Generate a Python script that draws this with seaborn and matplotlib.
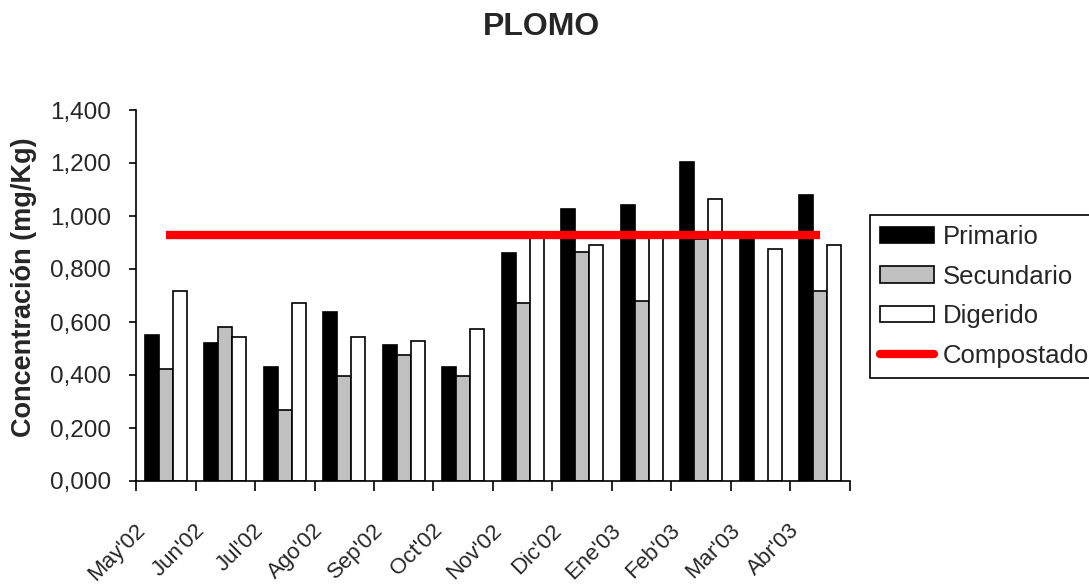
import numpy as np
import pandas as pd
import matplotlib
matplotlib.use("Agg")
import matplotlib.pyplot as plt
import seaborn as sns
from matplotlib.patches import Patch
from matplotlib.lines import Line2D
from matplotlib.ticker import FixedLocator, FuncFormatter

months = ["May'02", "Jun'02", "Jul'02", "Ago'02", "Sep'02", "Oct'02",
          "Nov'02", "Dic'02", "Ene'03", "Feb'03", "Mar'03", "Abr'03"]
primario = [0.551, 0.521, 0.430, 0.636, 0.513, 0.430, 0.861, 1.028, 1.043, 1.203, 0.925, 1.081]
secundario = [0.421, 0.580, 0.269, 0.398, 0.474, 0.398, 0.671, 0.866, 0.678, 0.912, np.nan, 0.716]
digerido = [0.716, 0.542, 0.672, 0.542, 0.528, 0.572, 0.925, 0.890, 0.925, 1.064, 0.875, 0.890]
compostado = [0.930, 0.930, 0.930, 0.930, 0.930, 0.930, 0.930, 0.930, 0.930, 0.930, 0.930, 0.930]
series_names = ["Primario", "Secundario", "Digerido"]
yticks = [0.0, 0.2, 0.4, 0.6, 0.8, 1.0, 1.2, 1.4]

sns.set_theme(style="white")
plt.rcParams['font.family'] = ['Liberation Sans', 'DejaVu Sans']

df = pd.DataFrame({
    "mes": months * 3,
    "serie": [s for s in series_names for _ in months],
    "valor": primario + secundario + digerido,
})

fig = plt.figure(figsize=(10.89, 5.84), dpi=100)
ax = fig.add_axes([136/1089, 1-481/584, (850-136)/1089, (481-110)/584])

colors = ["#000000", "#C0C0C0", "#FFFFFF"]
sns.barplot(data=df, x="mes", y="valor", hue="serie", order=months,
            hue_order=series_names, palette=colors, edgecolor="black",
            linewidth=1.2, width=0.7, errorbar=None, ax=ax, legend=False)

ax.plot(range(len(months)), compostado, color="#FF0000", linewidth=6,
        solid_capstyle="butt", zorder=5)

ax.set_xlim(-0.5, len(months) - 0.5)
ax.set_ylim(0, 1.4)
ax.set_xlabel("")
ax.set_ylabel("")

# y axis
ax.set_yticks(yticks)
ax.yaxis.set_major_formatter(FuncFormatter(lambda v, p: f"{v:.3f}".replace(".", ",")))
ax.tick_params(axis="y", direction="out", length=5, width=1.2, color="black",
               labelsize=17.5, pad=13, left=True)

# x axis: ticks at category boundaries, labels offset
ax.xaxis.set_minor_locator(FixedLocator(np.arange(-0.5, len(months), 1.0)))
ax.set_xticks(np.arange(len(months)) - 0.28)
ax.set_xticklabels(months, rotation=45, ha="right", rotation_mode="default")
ax.tick_params(axis="x", which="major", length=0, labelsize=16, pad=28)
ax.tick_params(axis="x", which="minor", direction="out", length=7, width=1.2,
               color="black", bottom=True)

for side in ["top", "right"]:
    ax.spines[side].set_visible(False)
for side in ["left", "bottom"]:
    ax.spines[side].set_color("black")
    ax.spines[side].set_linewidth(1.2)
ax.grid(False)

fig.suptitle("PLOMO", fontsize=23, fontweight="bold", x=0.497, y=1-12/584, va="top")
fig.text(24/1089, 1-287/584, "Concentración (mg/Kg)", rotation=90, ha="center",
         va="center", fontsize=19.5, fontweight="bold")

handles = [Patch(facecolor=c, edgecolor="black", linewidth=1.2) for c in colors]
handles.append(Line2D([0], [0], color="#FF0000", linewidth=6))
leg = fig.legend(handles, series_names + ["Compostado"], loc="upper left",
                 bbox_to_anchor=(870/1089, 1-215/584), fontsize=18.5, frameon=True,
                 fancybox=False, framealpha=1, edgecolor="black", borderpad=0.4,
                 handlelength=2.1, handleheight=0.6, handletextpad=0.35,
                 labelspacing=0.6, borderaxespad=0)
leg.get_frame().set_linewidth(1.2)

fig.savefig("out.png", dpi=100)
